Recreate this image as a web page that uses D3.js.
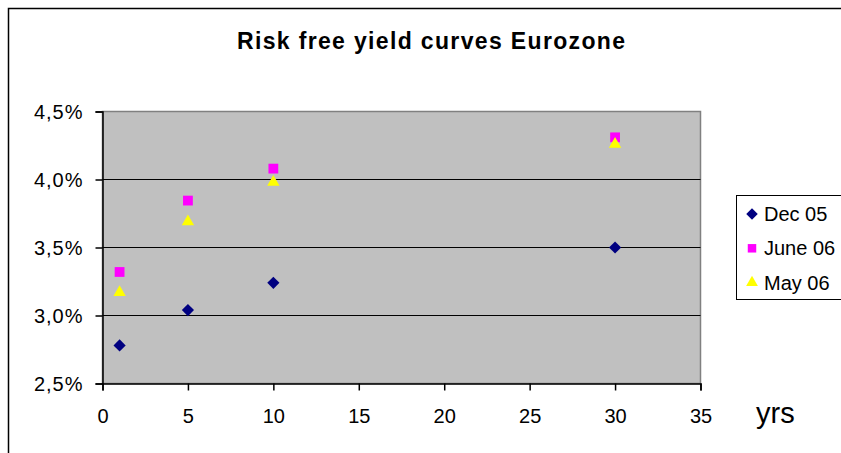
<!DOCTYPE html>
<html><head><meta charset="utf-8">
<script src="https://cdn.jsdelivr.net/npm/d3@7"></script>
<style>body{margin:0;background:#fff}svg{display:block}text{font-family:"Liberation Sans",Arial,sans-serif}</style>
</head><body>
<script>
const maturities = [1, 5, 10, 30];
const dec05 = [2.78, 3.04, 3.24, 3.50];
const june06 = [3.32, 3.845, 4.08, 4.31];
const may06 = [3.17, 3.69, 3.98, 4.26];
const seriesNames = ["Dec 05", "June 06", "May 06"];
const xTicks = [0, 5, 10, 15, 20, 25, 30, 35];
const yTicks = [2.5, 3.0, 3.5, 4.0, 4.5];

const W = 841, H = 453;
const svg = d3.select("body").append("svg").attr("width", W).attr("height", H);
svg.append("rect").attr("x", 8.5).attr("y", 8.5).attr("width", 900).attr("height", 600)
  .attr("fill", "#fff").attr("stroke", "#000").attr("stroke-width", 1.5);

const pL = 102.5, pR = 700.5, pT = 111.5, pB = 383.5;
const x = d3.scaleLinear().domain([0, 35]).range([pL, pR]);
const y = d3.scaleLinear().domain([2.5, 4.5]).range([pB, pT]);

svg.append("rect").attr("x", pL).attr("y", pT).attr("width", pR - pL).attr("height", pB - pT)
  .attr("fill", "#C0C0C0").attr("stroke", "#808080").attr("stroke-width", 1.5);

svg.append("g").selectAll("line").data(yTicks.slice(1, -1)).join("line")
  .attr("x1", pL).attr("x2", pR).attr("y1", d => y(d)).attr("y2", d => y(d))
  .attr("stroke", "#000").attr("stroke-width", 1);

const fmt = d => d3.format(".1f")(d).replace(".", ",") + "%";
const yAxis = svg.append("g").attr("transform", `translate(${pL},0)`)
  .call(d3.axisLeft(y).tickValues(yTicks).tickFormat(fmt).tickSize(7).tickPadding(12));
const xAxis = svg.append("g").attr("transform", `translate(0,${pB})`)
  .call(d3.axisBottom(x).tickValues(xTicks).tickFormat(d3.format("d")).tickSize(7).tickPadding(18));
[yAxis, xAxis].forEach(a => {
  a.select(".domain").attr("stroke", "#000").attr("stroke-width", 1.5);
  a.selectAll(".tick line").attr("stroke", "#000").attr("stroke-width", 1.5);
  a.selectAll("text").attr("font-size", 20).attr("fill", "#000")
    .attr("font-family", "Liberation Sans, Arial, sans-serif");
});
yAxis.selectAll("text").attr("dy", "0.35em").attr("letter-spacing", 1);

svg.append("text").attr("x", 431).attr("y", 49).attr("text-anchor", "middle")
  .attr("font-size", 23).attr("font-weight", "bold")
  .attr("textLength", 388).attr("lengthAdjust", "spacing")
  .text("Risk free yield curves Eurozone");
svg.append("text").attr("x", 756).attr("y", 423).attr("font-size", 29).text("yrs");

const symDiamond = d3.symbol().type(d3.symbolSquare).size(74);
const shapes = [d3.symbolSquare, d3.symbolSquare, d3.symbolTriangle];
const sizes = [74, 96, 66];
const rot = [45, 0, 0];
const colors = ["#000080", "#FF00FF", "#FFFF00"];
const allSeries = [dec05, june06, may06];

allSeries.forEach((vals, i) => {
  svg.append("g").selectAll("path").data(vals).join("path")
    .attr("d", d3.symbol().type(shapes[i]).size(sizes[i]))
    .attr("transform", (d, j) => `translate(${x(maturities[j])},${y(d)}) rotate(${rot[i]})`)
    .attr("fill", colors[i]);
});

const lg = svg.append("g");
lg.append("rect").attr("x", 736.5).attr("y", 195.5).attr("width", 200).attr("height", 104)
  .attr("fill", "#fff").attr("stroke", "#000").attr("stroke-width", 1);
const lgSizes = [66, 72, 60];
seriesNames.forEach((n, i) => {
  const yy = 214 + i * 34.3;
  lg.append("path").attr("d", d3.symbol().type(shapes[i]).size(lgSizes[i]))
    .attr("transform", `translate(752,${yy}) rotate(${rot[i]})`).attr("fill", colors[i]);
  lg.append("text").attr("x", 764).attr("y", yy).attr("dy", "0.35em").attr("font-size", 20).text(n);
});
</script>
</body></html>
